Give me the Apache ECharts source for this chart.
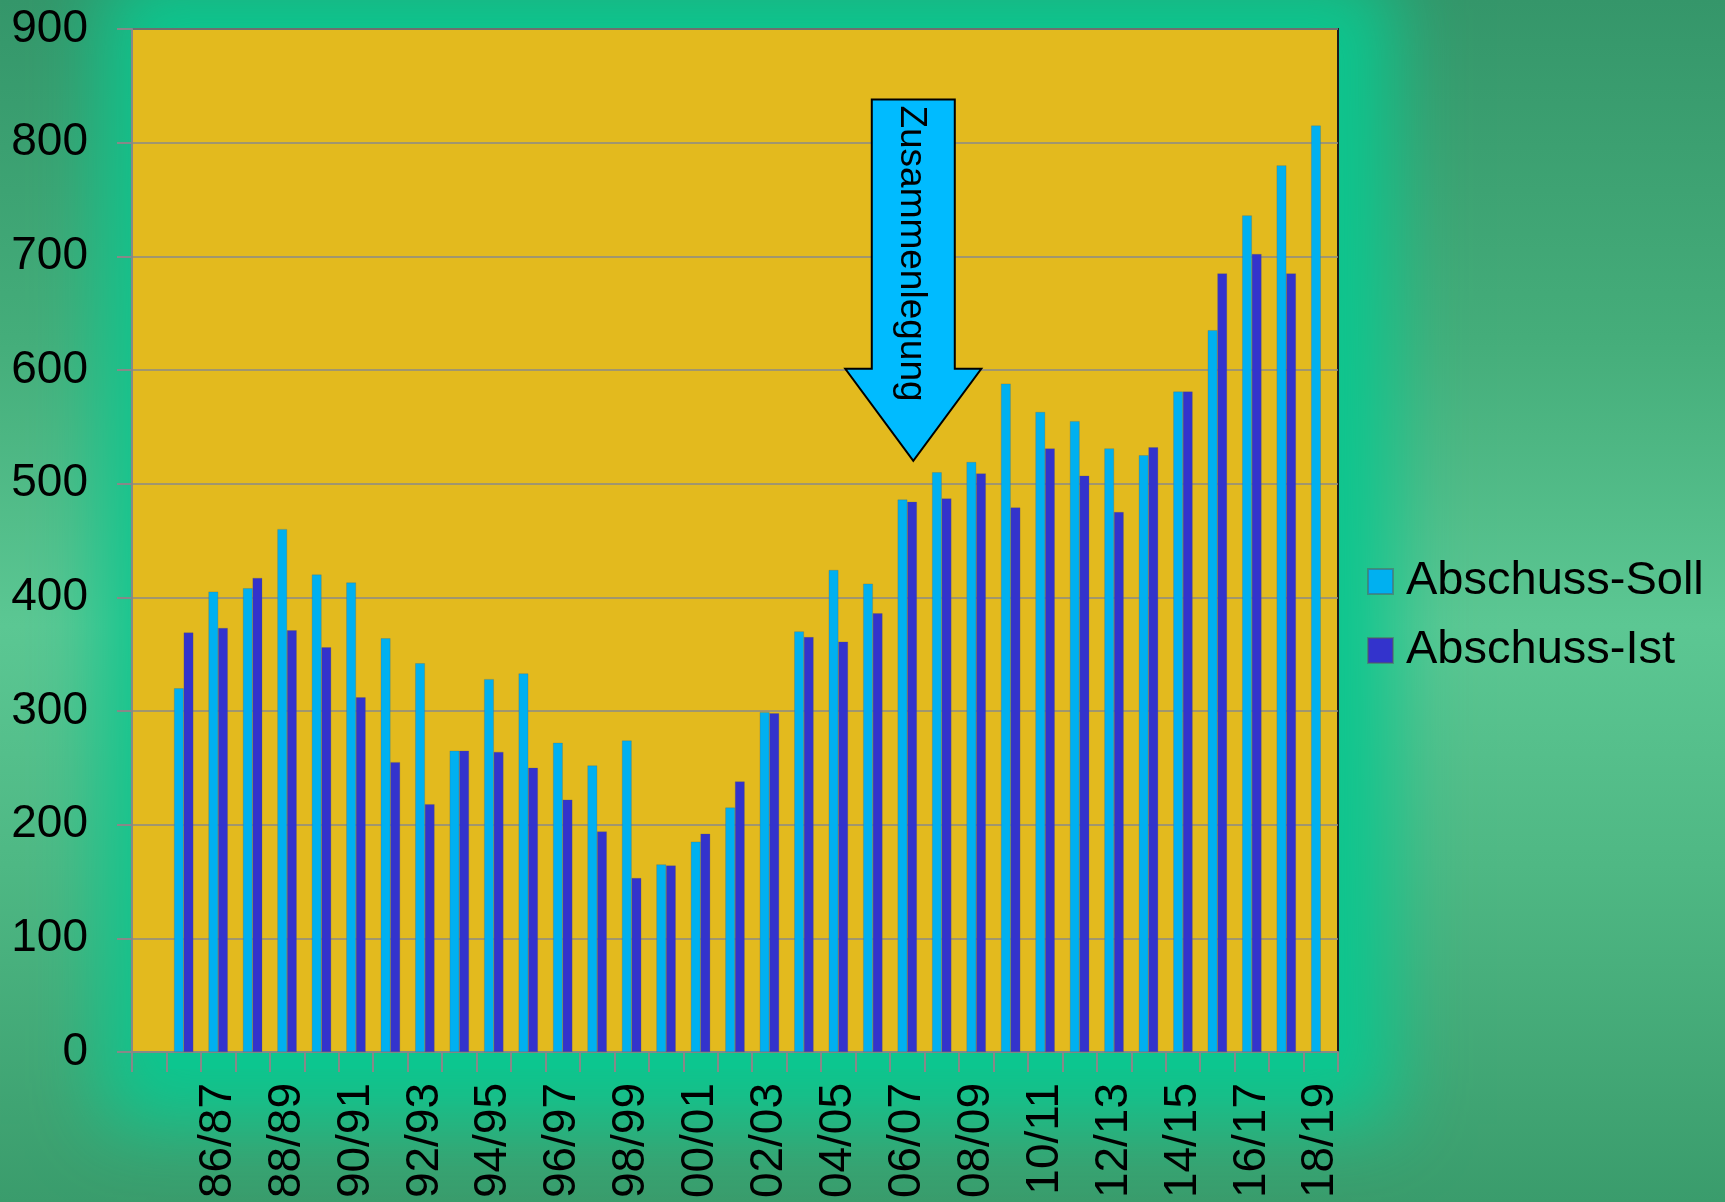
<!DOCTYPE html>
<html>
<head>
<meta charset="utf-8">
<script src="https://cdn.jsdelivr.net/npm/echarts@6/dist/echarts.min.js"></script>
<style>
  html, body { margin: 0; padding: 0; }
  body {
    width: 1725px; height: 1202px; overflow: hidden; position: relative;
    background: linear-gradient(180deg, #35966a 0%, #45ad7a 28%, #5cc793 52%, #4fb884 72%, #3a9c6c 100%);
  }
  #glow {
    position: absolute; left: 160px; top: 29px; width: 1178px; height: 1040px;
    background: #0cc68f; box-shadow: 0 0 70px 55px #0cc68f;
  }
  #chart { position: absolute; left: 0; top: 0; width: 1725px; height: 1202px; }
</style>
</head>
<body>
<div id="glow"></div>
<div id="chart"></div>
<script>
const categories = ['84/85','85/86','86/87','87/88','88/89','89/90','90/91','91/92','92/93','93/94',
  '94/95','95/96','96/97','97/98','98/99','99/00','00/01','01/02','02/03','03/04',
  '04/05','05/06','06/07','07/08','08/09','09/10','10/11','11/12','12/13','13/14',
  '14/15','15/16','16/17','17/18','18/19'];
const abschussSoll = [null, 320, 405, 408, 460, 420, 413, 364, 342, 265, 328, 333, 272, 252, 274, 165, 185, 215, 299, 370,
  424, 412, 486, 510, 519, 588, 563, 555, 531, 525, 581, 635, 736, 780, 815];
const abschussIst = [null, 369, 373, 417, 371, 356, 312, 255, 218, 265, 264, 250, 222, 194, 153, 164, 192, 238, 298, 365,
  361, 386, 484, 487, 509, 479, 531, 507, 475, 532, 581, 685, 702, 685, null];
const seriesNames = ['Abschuss-Soll', 'Abschuss-Ist'];
const annotationText = 'Zusammenlegung';
const annotationCategory = '06/07';
const annotationTip = 520, annotationHeadBase = 601, annotationTop = 838;

const FONT = '"Liberation Sans", Arial, sans-serif';
const chart = echarts.init(document.getElementById('chart'), null, { renderer: 'canvas' });

chart.setOption({
  backgroundColor: 'transparent',
  animation: false,
  grid: {
    left: 132, top: 29, right: 387, bottom: 150,
    show: true, backgroundColor: '#E3BA1E', borderColor: '#1c1c1c', borderWidth: 2,
    containLabel: false, outerBoundsMode: 'none'
  },
  legend: {
    orient: 'vertical', left: 1367, top: 558, padding: 0,
    itemWidth: 25, itemHeight: 25, itemGap: 22, icon: 'rect',
    textStyle: { color: '#000', fontSize: 47, fontFamily: FONT, lineHeight: 47, padding: [0, 0, 0, 8] },
    data: seriesNames
  },
  xAxis: {
    type: 'category', data: categories,
    axisLine: { show: true, lineStyle: { color: '#888', width: 2 } },
    axisTick: { show: true, interval: 0, length: 20, lineStyle: { color: '#888', width: 2 } },
    axisLabel: {
      rotate: 90, margin: 31, fontSize: 46, fontFamily: FONT, color: '#000',
      interval: function (idx) { return idx > 0 && idx % 2 === 0; }
    },
    splitLine: { show: false }
  },
  yAxis: {
    type: 'value', min: 0, max: 900, interval: 100,
    axisLine: { show: true, lineStyle: { color: '#888', width: 2 } },
    axisTick: { show: true, length: 15, lineStyle: { color: '#888', width: 2 } },
    axisLabel: { margin: 44, fontSize: 46, fontFamily: FONT, color: '#000' },
    splitLine: { show: true, lineStyle: { color: '#8a8a8a', width: 1.5 } }
  },
  series: [
    { name: seriesNames[0], type: 'bar', data: abschussSoll, barWidth: '28%', barGap: '0%',
      itemStyle: { color: '#00B0F0', borderColor: 'rgba(90,90,90,0.5)', borderWidth: 0.5 } },
    { name: seriesNames[1], type: 'bar', data: abschussIst, barWidth: '28%', barGap: '0%',
      itemStyle: { color: '#3333CC', borderColor: 'rgba(90,90,90,0.5)', borderWidth: 0.5 } }
  ]
});

// Annotation arrow anchored to data coordinates
const tipPt = chart.convertToPixel({ xAxisIndex: 0, yAxisIndex: 0 }, [annotationCategory, annotationTip]);
const basePt = chart.convertToPixel({ xAxisIndex: 0, yAxisIndex: 0 }, [annotationCategory, annotationHeadBase]);
const topPt = chart.convertToPixel({ xAxisIndex: 0, yAxisIndex: 0 }, [annotationCategory, annotationTop]);
const cx = tipPt[0] + 6;
const shaftHalf = 41.5, headHalf = 68;
chart.setOption({
  graphic: [
    {
      type: 'polygon', z: 100,
      shape: { points: [
        [cx - shaftHalf, topPt[1]], [cx + shaftHalf, topPt[1]], [cx + shaftHalf, basePt[1]],
        [cx + headHalf, basePt[1]], [cx, tipPt[1]], [cx - headHalf, basePt[1]], [cx - shaftHalf, basePt[1]]
      ] },
      style: { fill: '#00BBFF', stroke: '#000', lineWidth: 2 }
    },
    {
      type: 'text', z: 101, x: cx - 2, y: topPt[1] + 154, rotation: -Math.PI / 2,
      style: { text: annotationText, fill: '#000', fontSize: 37, fontFamily: FONT,
        align: 'center', verticalAlign: 'middle' }
    }
  ]
});
</script>
</body>
</html>
